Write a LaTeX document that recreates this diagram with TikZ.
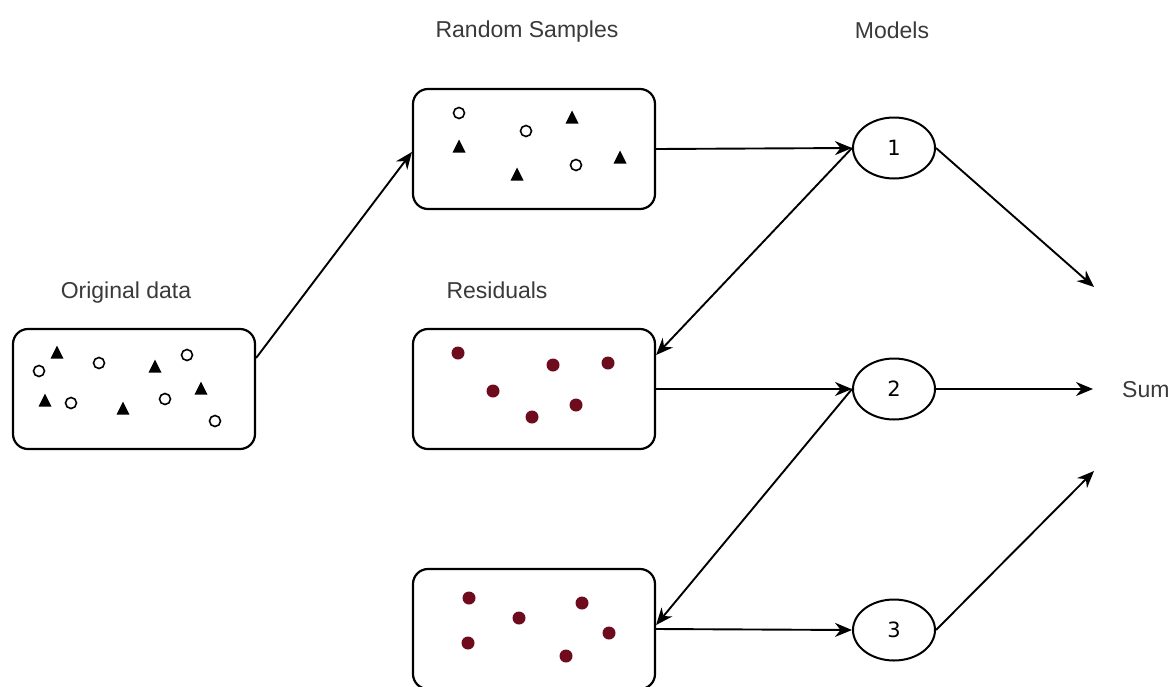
\documentclass[tikz,border=0pt]{standalone}
\usepackage{fontspec}
\setmainfont{Liberation Sans}
\newfontfamily\numfont{DejaVu Sans}
\usetikzlibrary{arrows.meta,shapes.geometric}
\definecolor{txtgray}{HTML}{3A3A3A}
\definecolor{dotred}{RGB}{110,12,30}
\begin{document}
\begin{tikzpicture}[x=1pt,y=-1pt,
  box/.style={draw, line width=2.2pt, rounded corners=15pt, minimum width=242pt, minimum height=120pt, inner sep=0pt},
  model/.style={draw, ellipse, line width=2pt, minimum width=82pt, minimum height=61pt, inner sep=0pt, font=\numfont\fontsize{21}{24}\selectfont},
  lbl/.style={text=txtgray, font=\fontsize{23}{27}\selectfont, inner sep=0pt},
  arr/.style={-{Stealth[length=17pt,width=14pt]}, line width=1.9pt},
  mtri/.pic={\fill (0,-6.5) -- (6.5,6.5) -- (-6.5,6.5) -- cycle;},
  mcirc/.pic={\draw[line width=1.6pt] (0,0) circle[radius=5.5pt];},
  mdot/.pic={\fill[dotred] (0,0) circle[radius=6.5pt];}
]
\useasboundingbox (0,0) rectangle (1173,686);
\fill[white] (0,0) rectangle (1173,686);
\clip (0,0) rectangle (1173,686);

% labels
\node[lbl, anchor=base] (lrs) at (527,37) {Random Samples};
\node[lbl, anchor=base] (lm) at (892,38) {Models};
\node[lbl, anchor=base] (lorig) at (126,298) {Original data};
\node[lbl, anchor=base] (lres) at (497,298) {Residuals};
\node[lbl, anchor=west] (sum) at (1122,390) {Sum};

% boxes
\node[box] (orig) at (134,389) {};
\node[box] (rs) at (534,149) {};
\node[box] (res) at (534,389) {};
\node[box] (bot) at (534,629) {};

% models
\node[model] (m1) at (894,148) {1};
\node[model] (m2) at (894,389) {2};
\node[model] (m3) at (894,630) {3};

% free ends
\coordinate (s1) at (1094,287);
\coordinate (s2) at (1093,389);
\coordinate (s3) at (1094,471);

% original data points
\foreach \p in {(57,352),(155,366),(201,388),(45,400),(123,408)} \pic at \p {mtri};
\foreach \p in {(39,371),(99,363),(187,355),(71,403),(165,399),(215,421)} \pic at \p {mcirc};

% random samples points
\foreach \p in {(572,117),(459,146),(517,174),(620,157)} \pic at \p {mtri};
\foreach \p in {(459,113),(526,131),(576,165)} \pic at \p {mcirc};

% residual points
\foreach \p in {(458,353),(553,365),(608,363),(493,391),(576,405),(532,417)} \pic at \p {mdot};

% bottom box points
\foreach \p in {(469,598),(519,618),(582,603),(468,643),(609,633),(566,656)} \pic at \p {mdot};

% connectors
\draw[arr] ([yshift=31pt]orig.east) -- ([yshift=-3pt]rs.west);
\draw[arr] (rs.east) -- (m1.west);
\draw[arr] (m1.west) -- ([yshift=34pt]res.east);
\draw[arr] (res.east) -- (m2.west);
\draw[arr] (m2.west) -- ([yshift=4pt]bot.east);
\draw[arr] (bot.east) -- (m3.west);
\draw[arr] (m1.east) -- (s1);
\draw[arr] (m2.east) -- (s2);
\draw[arr] (m3.east) -- (s3);
\end{tikzpicture}
\end{document}
